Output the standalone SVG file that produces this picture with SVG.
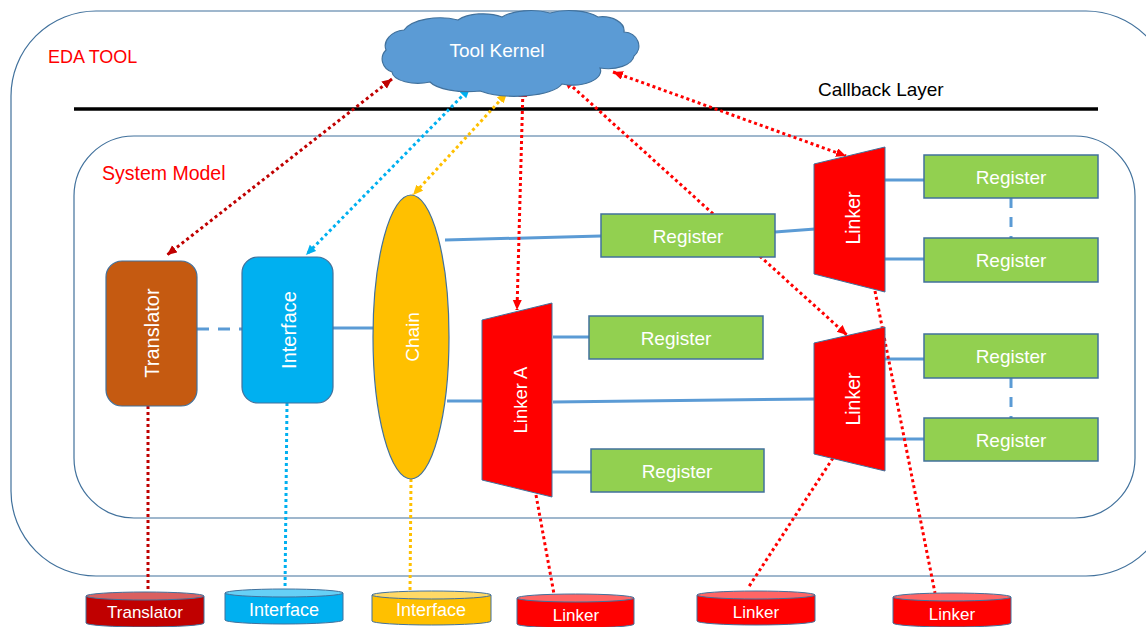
<svg xmlns="http://www.w3.org/2000/svg" width="1146" height="627" viewBox="0 0 1146 627">
<style>
text{font-family:"Liberation Sans",Arial,sans-serif}
.lbl{fill:#FF0000}
.w{fill:#FFFFFF;text-anchor:middle}
.frame{fill:none;stroke:#41719C;stroke-width:1.2}
.node{stroke:#41719C;stroke-width:1.2}
.reg{fill:#92D050;stroke:#41719C;stroke-width:1.5}
.link{fill:#FF0000;stroke:#41719C;stroke-width:1}
.wire{fill:none;stroke:#5B9BD5;stroke-width:3}
.dash{stroke-dasharray:12 9}
.dot{fill:none;stroke-width:3;stroke-dasharray:3 3}
.dr{stroke:#C00000}
.rd{stroke:#FF0000}
.bl{stroke:#00B0F0}
.or{stroke:#FFC000}
</style>
<defs>
<marker id="aDR" markerUnits="userSpaceOnUse" markerWidth="12" markerHeight="10" refX="10" refY="4.5" orient="auto-start-reverse"><path d="M0,0 L10,4.5 L0,9 Z" fill="#C00000"/></marker>
<marker id="aRD" markerUnits="userSpaceOnUse" markerWidth="12" markerHeight="10" refX="10" refY="4.5" orient="auto-start-reverse"><path d="M0,0 L10,4.5 L0,9 Z" fill="#FF0000"/></marker>
<marker id="aBL" markerUnits="userSpaceOnUse" markerWidth="12" markerHeight="10" refX="10" refY="4.5" orient="auto-start-reverse"><path d="M0,0 L10,4.5 L0,9 Z" fill="#00B0F0"/></marker>
<marker id="aOR" markerUnits="userSpaceOnUse" markerWidth="12" markerHeight="10" refX="10" refY="4.5" orient="auto-start-reverse"><path d="M0,0 L10,4.5 L0,9 Z" fill="#FFC000"/></marker>
</defs>
<rect width="1146" height="627" fill="#FFFFFF"/>

<g id="eda-tool">
<rect class="frame" x="11" y="11" width="1160" height="565" rx="85" ry="85"/>
<text class="lbl" x="48" y="63" font-size="18">EDA TOOL</text>
</g>

<g id="callback-layer">
<line x1="74" y1="109" x2="1098" y2="109" stroke="#000000" stroke-width="3.5"/>
<text x="818" y="96" font-size="19" fill="#000000">Callback Layer</text>
</g>

<g id="system-model">
<rect class="frame" x="74" y="136" width="1061" height="382" rx="60" ry="60"/>
<text class="lbl" x="102" y="180" font-size="19.5">System Model</text>
</g>

<g id="connectors">
<!-- solid / dashed wiring -->
<line class="wire dash" x1="197" y1="329" x2="242" y2="329"/>
<line class="wire" x1="333" y1="328" x2="374" y2="328"/>
<line class="wire" x1="445" y1="240" x2="601" y2="236"/>
<line class="wire" x1="775" y1="232" x2="815" y2="229"/>
<line class="wire" x1="885" y1="180" x2="924" y2="180"/>
<line class="wire" x1="885" y1="259" x2="924" y2="259"/>
<line class="wire dash" x1="1011" y1="198" x2="1011" y2="238" style="stroke-dasharray:10 9"/>
<line class="wire" x1="447" y1="401" x2="482" y2="401"/>
<line class="wire" x1="553" y1="337" x2="589" y2="337"/>
<line class="wire" x1="542" y1="472" x2="591" y2="472"/>
<line class="wire" x1="553" y1="402" x2="815" y2="399"/>
<line class="wire" x1="885" y1="359" x2="924" y2="359"/>
<line class="wire" x1="885" y1="439" x2="924" y2="439"/>
<line class="wire dash" x1="1011" y1="378" x2="1011" y2="418" style="stroke-dasharray:10 9"/>
<!-- dotted callback links -->
<line class="dot dr" x1="392" y1="79" x2="167" y2="255" marker-start="url(#aDR)" marker-end="url(#aDR)"/>
<line class="dot bl" x1="470" y1="88" x2="306" y2="255" marker-start="url(#aBL)" marker-end="url(#aBL)"/>
<line class="dot or" x1="507" y1="93" x2="413" y2="195" marker-start="url(#aOR)" marker-end="url(#aOR)"/>
<line class="dot rd" x1="523" y1="87" x2="517" y2="310" marker-start="url(#aRD)" marker-end="url(#aRD)"/>
<line class="dot rd" x1="564" y1="79" x2="847" y2="335" marker-start="url(#aRD)" marker-end="url(#aRD)"/>
<line class="dot rd" x1="613" y1="72" x2="846" y2="156" marker-start="url(#aRD)" marker-end="url(#aRD)"/>
<!-- dotted to storage -->
<line class="dot dr" x1="148" y1="406" x2="148" y2="592"/>
<line class="dot bl" x1="287" y1="403" x2="285" y2="590"/>
<line class="dot or" x1="411" y1="479" x2="410" y2="592"/>
<line class="dot rd" x1="536" y1="495" x2="554" y2="594"/>
<line class="dot rd" x1="833" y1="458" x2="748" y2="588"/>
<line class="dot rd" x1="875" y1="291" x2="935" y2="593"/>
</g>

<g id="tool-kernel">
<path d="M392,72 A16 14 0 0 1 386,50 A22 16 0 0 1 404,30 A38 18 0 0 1 458,20 A30 14 0 0 1 502,17 A34 14 0 0 1 550,13 A34 14 0 0 1 598,17 A22 14 0 0 1 624,32 A16 14 0 0 1 634,56 A26 14 0 0 1 600,68 A28 14 0 0 1 562,84 A48 16 0 0 1 480,91 A40 14 0 0 1 430,82 A26 12 0 0 1 392,72 Z" fill="#5B9BD5" stroke="#41719C" stroke-width="1.2"/>
<text class="w" x="497" y="57" font-size="19">Tool Kernel</text>
</g>

<g id="translator">
<rect class="node" x="106" y="261" width="91" height="145" rx="16" fill="#C55A11"/>
<text class="w" transform="translate(152,333) rotate(-90)" dominant-baseline="central" font-size="20">Translator</text>
</g>

<g id="interface">
<rect class="node" x="242" y="257" width="91" height="146" rx="16" fill="#00B0F0"/>
<text class="w" transform="translate(289,330) rotate(-90)" dominant-baseline="central" font-size="20">Interface</text>
</g>

<g id="chain">
<ellipse class="node" cx="411" cy="337" rx="38" ry="142" fill="#FFC000"/>
<text class="w" transform="translate(412,337) rotate(-90)" dominant-baseline="central" font-size="19">Chain</text>
</g>

<g id="register-top">
<rect class="reg" x="601" y="214" width="174" height="43"/>
<text class="w" x="688" y="242.5" font-size="19">Register</text>
</g>

<g id="linker-upper">
<polygon class="link" points="814,164 885,147 885,292 814,274"/>
<text class="w" transform="translate(853,218) rotate(-90)" dominant-baseline="central" font-size="19.5">Linker</text>
</g>

<g id="register-ur1">
<rect class="reg" x="924" y="155" width="174" height="43"/>
<text class="w" x="1011" y="183.5" font-size="19">Register</text>
</g>

<g id="register-ur2">
<rect class="reg" x="924" y="238" width="174" height="44"/>
<text class="w" x="1011" y="266.5" font-size="19">Register</text>
</g>

<g id="linker-a">
<polygon class="link" points="482,320 552,303 552,497 482,480"/>
<text class="w" transform="translate(520,400) rotate(-90)" dominant-baseline="central" font-size="18.5">Linker A</text>
</g>

<g id="register-a1">
<rect class="reg" x="589" y="316" width="174" height="43"/>
<text class="w" x="676" y="344.5" font-size="19">Register</text>
</g>

<g id="register-a2">
<rect class="reg" x="591" y="449" width="173" height="43"/>
<text class="w" x="677" y="477.5" font-size="19">Register</text>
</g>

<g id="linker-lower">
<polygon class="link" points="814,343 885,327 885,471 814,454"/>
<text class="w" transform="translate(853,399) rotate(-90)" dominant-baseline="central" font-size="19.5">Linker</text>
</g>

<g id="register-lr1">
<rect class="reg" x="924" y="334" width="174" height="44"/>
<text class="w" x="1011" y="362.5" font-size="19">Register</text>
</g>

<g id="register-lr2">
<rect class="reg" x="924" y="418" width="174" height="43"/>
<text class="w" x="1011" y="446.5" font-size="19">Register</text>
</g>

<g id="store-translator">
<path d="M86,596 L86,623 A59 4 0 0 0 204,623 L204,596 Z" fill="#C00000" stroke="#41719C" stroke-width="1"/>
<ellipse cx="145" cy="596" rx="59" ry="4" fill="#DA6060" stroke="#41719C" stroke-width="1"/>
<text class="w" x="145" y="618" font-size="17">Translator</text>
</g>

<g id="store-interface">
<path d="M225,593 L225,620 A59 4 0 0 0 343,620 L343,593 Z" fill="#00B0F0" stroke="#41719C" stroke-width="1"/>
<ellipse cx="284" cy="593" rx="59" ry="4" fill="#66D0F6" stroke="#41719C" stroke-width="1"/>
<text class="w" x="284" y="616" font-size="18">Interface</text>
</g>

<g id="store-chain">
<path d="M372,595 L372,621 A59.5 4 0 0 0 491,621 L491,595 Z" fill="#FFC000" stroke="#41719C" stroke-width="1"/>
<ellipse cx="431.5" cy="595" rx="59.5" ry="4" fill="#FFD966" stroke="#41719C" stroke-width="1"/>
<text class="w" x="431" y="616" font-size="18">Interface</text>
</g>

<g id="store-linker1">
<path d="M517,598 L517,624 A58.5 4 0 0 0 634,624 L634,598 Z" fill="#FF0000" stroke="#41719C" stroke-width="1"/>
<ellipse cx="575.5" cy="598" rx="58.5" ry="4" fill="#FF6565" stroke="#41719C" stroke-width="1"/>
<text class="w" x="576" y="621" font-size="17">Linker</text>
</g>

<g id="store-linker2">
<path d="M697,595 L697,621 A59 4 0 0 0 815,621 L815,595 Z" fill="#FF0000" stroke="#41719C" stroke-width="1"/>
<ellipse cx="756" cy="595" rx="59" ry="4" fill="#FF6565" stroke="#41719C" stroke-width="1"/>
<text class="w" x="756" y="618" font-size="17">Linker</text>
</g>

<g id="store-linker3">
<path d="M893,597 L893,623 A59 4 0 0 0 1011,623 L1011,597 Z" fill="#FF0000" stroke="#41719C" stroke-width="1"/>
<ellipse cx="952" cy="597" rx="59" ry="4" fill="#FF6565" stroke="#41719C" stroke-width="1"/>
<text class="w" x="952" y="620" font-size="17">Linker</text>
</g>
</svg>
